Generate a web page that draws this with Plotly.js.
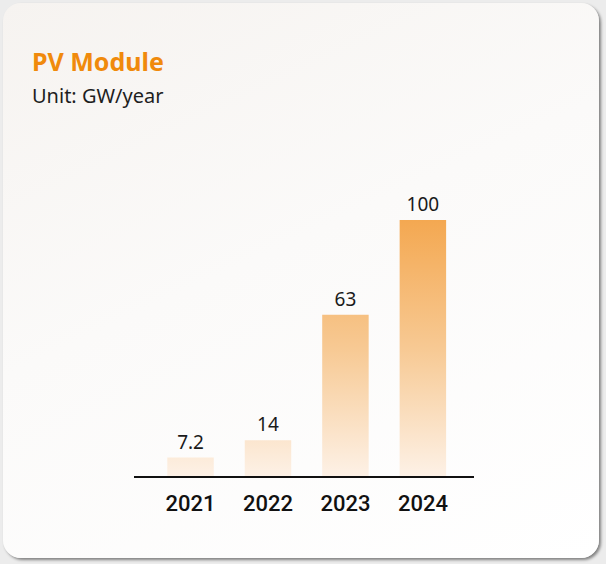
<!DOCTYPE html>
<html>
<head>
<meta charset="utf-8">
<script src="https://cdn.plot.ly/plotly-3.0.1.min.js"></script>
<style>
  html, body { margin: 0; padding: 0; width: 606px; height: 564px; background: #ececec; overflow: hidden; }
  #card { position: absolute; left: 3px; top: 3px; width: 596px; height: 555px; border-radius: 18px;
          background: linear-gradient(155deg, #f6f3f0 0%, #fbfaf9 45%, #ffffff 100%);
          box-shadow: 2px 2px 3px rgba(0,0,0,0.45); }
  #chart { position: absolute; left: 0; top: 0; width: 606px; height: 564px; }
</style>
</head>
<body>
<div id="card"></div>
<div id="chart"></div>
<script>
const categories = ['2021', '2022', '2023', '2024'];
const values = [7.2, 14, 63, 100];
const labels = ['7.2', '14', '63', '100'];
const chartTitle = 'PV Module';
const unitText = 'Unit: GW/year';

const trace = {
  type: 'bar',
  x: categories,
  y: values,
  text: labels,
  textposition: 'outside',
  cliponaxis: false,
  textfont: { family: 'Noto Sans, sans-serif', size: 19, color: '#1a1a1a' },
  marker: { color: '#f6b46a', line: { width: 0 } },
  width: 0.6,
  hoverinfo: 'none'
};

const layout = {
  width: 606, height: 564,
  margin: { l: 134, r: 132, t: 100, b: 88 },
  paper_bgcolor: 'rgba(0,0,0,0)',
  plot_bgcolor: 'rgba(0,0,0,0)',
  showlegend: false,
  title: {
    text: '<b>' + chartTitle + '</b>',
    font: { family: 'Noto Sans, sans-serif', size: 25, color: '#f08a0c' },
    x: 32 / 606, xref: 'container', xanchor: 'left',
    y: 1 - 53 / 564, yref: 'container', yanchor: 'top'
  },
  annotations: [{
    text: unitText, xref: 'paper', yref: 'paper',
    x: -101 / 340, y: 1 + 4 / 376, xanchor: 'left', yanchor: 'middle',
    xshift: -3,
    showarrow: false,
    font: { family: 'Noto Sans, sans-serif', size: 20, color: '#1e1e1e' }
  }],
  xaxis: {
    type: 'category',
    range: [-0.73, 3.66],
    showline: true, linecolor: '#111', linewidth: 2,
    showgrid: false, zeroline: false, ticks: '',
    ticklabelstandoff: 7,
    tickfont: { family: 'Roboto, sans-serif', size: 22, color: '#111', weight: 500 },
    fixedrange: true
  },
  yaxis: {
    range: [0, 146.9],
    visible: false, showgrid: false, zeroline: false, fixedrange: true
  },
  bargap: 0.4
};

Plotly.newPlot('chart', [trace], layout, { displayModeBar: false, staticPlot: true }).then(function (gd) {
  const ya = gd._fullLayout.yaxis;
  const yTop = ya.l2p(100);
  const yBot = ya.l2p(0);
  const svg = gd.querySelector('svg.main-svg');
  const ns = 'http://www.w3.org/2000/svg';
  let defs = svg.querySelector('defs');
  if (!defs) { defs = document.createElementNS(ns, 'defs'); svg.insertBefore(defs, svg.firstChild); }
  const grad = document.createElementNS(ns, 'linearGradient');
  grad.setAttribute('id', 'barGrad');
  grad.setAttribute('gradientUnits', 'userSpaceOnUse');
  grad.setAttribute('x1', '0'); grad.setAttribute('x2', '0');
  grad.setAttribute('y1', String(yTop)); grad.setAttribute('y2', String(yBot));
  [['0', '#f4a851'], ['0.5', '#f7c993'], ['1', '#fdf1e6']].forEach(function (s) {
    const st = document.createElementNS(ns, 'stop');
    st.setAttribute('offset', s[0]); st.setAttribute('stop-color', s[1]);
    grad.appendChild(st);
  });
  defs.appendChild(grad);
  gd.querySelectorAll('.bars .point path').forEach(function (p) {
    p.style.fill = 'url(#barGrad)';
    p.style.fillOpacity = 1;
  });
});
</script>
</body>
</html>
